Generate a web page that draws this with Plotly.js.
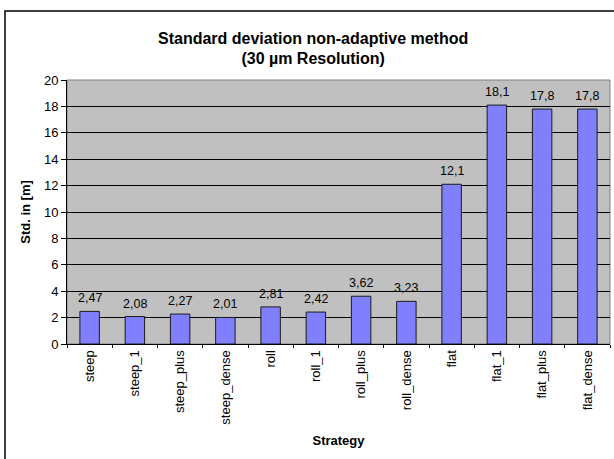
<!DOCTYPE html>
<html>
<head>
<meta charset="utf-8">
<script src="https://cdn.plot.ly/plotly-3.0.1.min.js"></script>
<style>html,body{margin:0;padding:0;background:#fff;}#chart{width:614px;height:459px;}</style>
</head>
<body>
<div id="chart"></div>
<script>
var categories = ["steep","steep_1","steep_plus","steep_dense","roll","roll_1","roll_plus","roll_dense","flat","flat_1","flat_plus","flat_dense"];
var stdValues = [2.47, 2.08, 2.27, 2.01, 2.81, 2.42, 3.62, 3.23, 12.1, 18.1, 17.8, 17.8];
var valueLabels = ["2,47","2,08","2,27","2,01","2,81","2,42","3,62","3,23","12,1","18,1","17,8","17,8"];
var yTickValues = [0,2,4,6,8,10,12,14,16,18,20];

var FONT = "Liberation Sans, Arial, sans-serif";

var trace = {
  type: "bar",
  x: categories,
  y: stdValues,
  marker: {color: "#8080FF", line: {color: "#1a1a1a", width: 1}},
  hoverinfo: "x+y"
};

var annotations = categories.map(function(c, i){
  return {x: c, y: stdValues[i], xref: "x", yref: "y", text: valueLabels[i],
    showarrow: false, yanchor: "bottom", yshift: 4,
    font: {family: FONT, size: 12.5, color: "#000"}};
});

var layout = {
  width: 614, height: 459,
  margin: {l: 67, r: 4, t: 80, b: 115},
  paper_bgcolor: "#ffffff",
  plot_bgcolor: "#C0C0C0",
  font: {family: FONT, size: 12, color: "#000"},
  showlegend: false,
  bargap: 0.57,
  title: {
    text: "<b>Standard deviation non-adaptive method<br>(30 µm Resolution)</b>",
    font: {family: FONT, size: 16, color: "#000"},
    x: 0.51, xref: "container", xanchor: "center",
    y: 0.905, yref: "container", yanchor: "top"
  },
  xaxis: {
    type: "category",
    range: [-0.5, 11.5],
    tickangle: -90,
    ticks: "outside", ticklen: 3, tickcolor: "#000", tickwidth: 1,
    tickson: "boundaries",
    showline: true, linecolor: "#000", linewidth: 1,
    showgrid: false,
    tickfont: {family: FONT, size: 13, color: "#000"},
    title: {text: "<b>Strategy</b>", font: {family: FONT, size: 13, color: "#000"}, standoff: 12},
    automargin: false
  },
  xaxis2: {
    overlaying: "x", anchor: "y", side: "bottom",
    range: [-0.5, 11.5],
    tick0: -0.5, dtick: 1,
    ticks: "inside", ticklen: 4, tickcolor: "#000", tickwidth: 1,
    showticklabels: false, showgrid: false, zeroline: false, showline: false,
    fixedrange: true
  },
  yaxis: {
    range: [0, 20],
    tickvals: yTickValues,
    ticktext: yTickValues.map(String),
    ticks: "outside", ticklen: 5, tickcolor: "#000", tickwidth: 1,
    showline: true, linecolor: "#000", linewidth: 1,
    showgrid: true, gridcolor: "#000", gridwidth: 1,
    zeroline: false,
    tickfont: {family: FONT, size: 13, color: "#000"},
    title: {text: "<b>Std. in [m]</b>", font: {family: FONT, size: 13, color: "#000"}, standoff: 10},
    automargin: false
  },
  annotations: annotations,
  shapes: [
    {type: "rect", xref: "paper", yref: "paper", x0: 0, x1: 1, y0: 0, y1: 1,
     line: {color: "#808080", width: 1}, fillcolor: "rgba(0,0,0,0)", layer: "below"},
    {type: "rect", xref: "paper", yref: "paper", x0: -0.1142, x1: 1.2, y0: -0.6, y1: 1.261,
     line: {color: "#000", width: 1.5}, fillcolor: "rgba(0,0,0,0)"}
  ]
};

Plotly.newPlot("chart", [trace], layout, {displayModeBar: false, staticPlot: true});
</script>
</body>
</html>
